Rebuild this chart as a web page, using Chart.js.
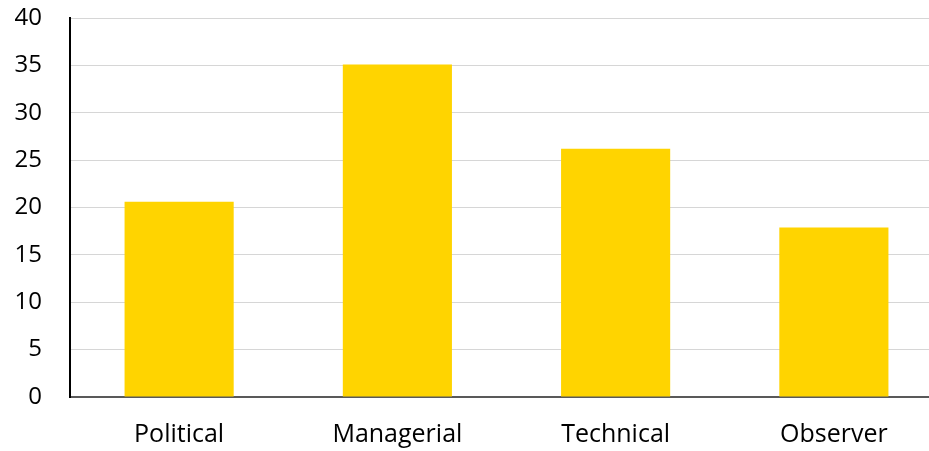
<!DOCTYPE html>
<html>
<head>
<meta charset="utf-8">
<script src="https://cdn.jsdelivr.net/npm/chart.js@4/dist/chart.umd.min.js"></script>
<style>
  html, body { margin: 0; padding: 0; background: #fff; }
  #wrap { width: 929px; height: 451px; overflow: hidden; position: relative; }
  #grafico { display: block; }
</style>
</head>
<body>
<div id="wrap"><canvas id="grafico" width="943" height="451"></canvas></div>
<script>
/* datos */
const CATEGORIAS = ['Political', 'Managerial', 'Technical', 'Observer'];
const VALORES    = [20.6, 35.1, 26.2, 17.9];
const Y_MAX  = 40;
const Y_PASO = 5;

const FUENTE_X = { family: '"Open Sans", sans-serif', size: 25 };
const FUENTE_Y = { family: '"Open Sans", sans-serif', size: 24 };

const ctx = document.getElementById('grafico').getContext('2d');
new Chart(ctx, {
    type: 'bar',
    data: {
        labels: CATEGORIAS,
        datasets: [{
            data: VALORES,
            backgroundColor: '#FFD400',
            borderWidth: 0,
            barPercentage: 0.5,
            categoryPercentage: 1
        }]
    },
    options: {
        responsive: false,
        animation: false,
        layout: { padding: { top: 18, right: 0, bottom: 0, left: 0 } },
        plugins: { legend: { display: false }, tooltip: { enabled: false } },
        scales: {
            x: {
                grid: { display: true, drawOnChartArea: false, drawTicks: false, color: 'rgba(0,0,0,0)' },
                border: { display: true, color: '#595959', width: 2 },
                ticks: { color: '#000', font: FUENTE_X, padding: 23, maxRotation: 0 },
                afterFit: s => { s.height = 54; s.paddingLeft = 0; s.paddingRight = 0; }
            },
            y: {
                min: 0,
                max: Y_MAX,
                grid: { color: '#d6d6d6', lineWidth: 1, drawTicks: false },
                border: { display: true, color: '#000', width: 2 },
                ticks: { stepSize: Y_PASO, color: '#000', font: FUENTE_Y, padding: 28 },
                // sin margen extra arriba/abajo por la mitad de la etiqueta
                afterFit: s => { s.width = 70; s.paddingTop = 0; s.paddingBottom = 0; }
            }
        }
    }
});
</script>
</body>
</html>
